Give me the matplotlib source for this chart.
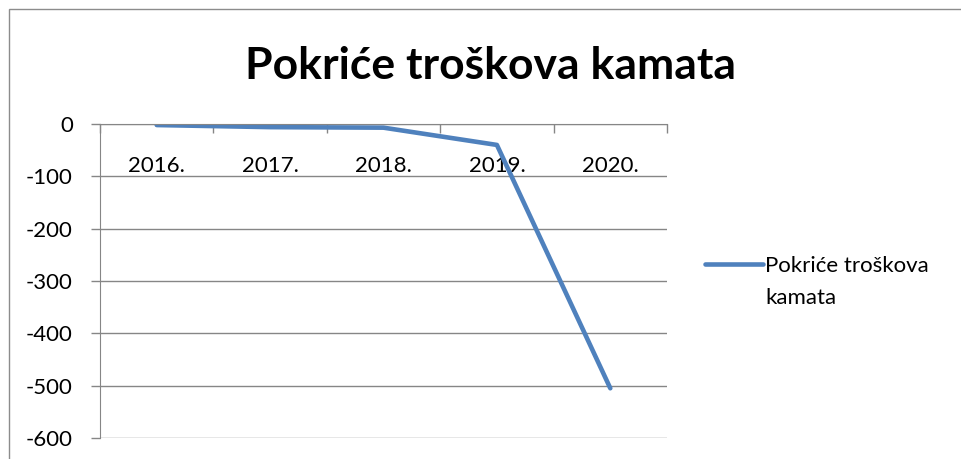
import matplotlib
matplotlib.use("Agg")
import matplotlib.pyplot as plt
from matplotlib.patches import Rectangle
from matplotlib.legend_handler import HandlerLine2D

# Data
years = ["2016.", "2017.", "2018.", "2019.", "2020."]
coverage = [-2, -6, -7, -40, -505]
y_ticks = [0, -100, -200, -300, -400, -500, -600]
series_name = "Pokriće troškova\nkamata"
title = "Pokriće troškova kamata"

plt.rcParams["font.family"] = ["Lato", "DejaVu Sans"]

W, H, DPI = 962, 459, 100
fig = plt.figure(figsize=(W / DPI, H / DPI), dpi=DPI)

# Outer chart border
fig.patches.append(Rectangle((9 / W, -0.1), 1.2, (H - 9) / H + 0.1,
                             transform=fig.transFigure, fill=False,
                             edgecolor="#8c8c8c", linewidth=1.0))

left, right = 100 / W, 667 / W
top, bottom = (H - 124) / H, (H - 438) / H
ax = fig.add_axes([left, bottom, right - left, top - bottom])

x = list(range(len(years)))
line, = ax.plot(x, coverage, color="#4F81BD", linewidth=3.3,
                solid_capstyle="round", solid_joinstyle="round",
                label=series_name)

ax.set_xlim(-0.5, len(years) - 0.5)
ax.set_ylim(-600, 0)
ax.set_yticks(y_ticks)
ax.set_yticklabels([str(v) for v in y_ticks])
ax.yaxis.grid(True, color="#868686", linewidth=1.0)
ax.set_axisbelow(True)

grey = "#868686"
for s in ["top", "right"]:
    ax.spines[s].set_visible(False)
ax.spines["left"].set_color(grey)
ax.spines["bottom"].set_color(grey)
ax.spines["bottom"].set_position(("data", 0))

# Category boundaries as major ticks, labels on minor ticks at centres
ax.set_xticks([i + 0.5 for i in range(-1, len(years))])
ax.set_xticklabels([])
ax.set_xticks(x, minor=True)
ax.set_xticklabels(years, minor=True)
ax.tick_params(axis="x", which="major", direction="out", length=6.5,
               color=grey, width=1.0)
ax.tick_params(axis="x", which="minor", length=0, pad=23, labelsize=16)
ax.tick_params(axis="y", direction="out", length=6.5, color=grey, width=1.0,
               labelsize=16, pad=13)

fig.text(491 / W, 1 - 66 / H, title, ha="center", va="center",
         fontsize=32, fontweight="bold")


class FirstLineHandler(HandlerLine2D):
    """Place the legend line level with the first line of a wrapped label."""

    def __init__(self, shift, **kw):
        super().__init__(**kw)
        self.shift = shift

    def create_artists(self, legend, orig_handle, xdescent, ydescent,
                       width, height, fontsize, trans):
        arts = super().create_artists(legend, orig_handle, xdescent, ydescent,
                                      width, height, fontsize, trans)
        for a in arts:
            a.set_ydata([y + self.shift for y in a.get_ydata()])
        return arts


leg = fig.legend(handles=[line], loc="upper left",
                 bbox_to_anchor=(705 / W, 1 - 256 / H), frameon=False,
                 fontsize=16, handlelength=2.6, handletextpad=0.1,
                 borderaxespad=0, borderpad=0,
                 handler_map={line: FirstLineHandler(shift=13.3)})
for t in leg.get_texts():
    t.set_linespacing(1.72)

fig.savefig("out.png", dpi=DPI)
